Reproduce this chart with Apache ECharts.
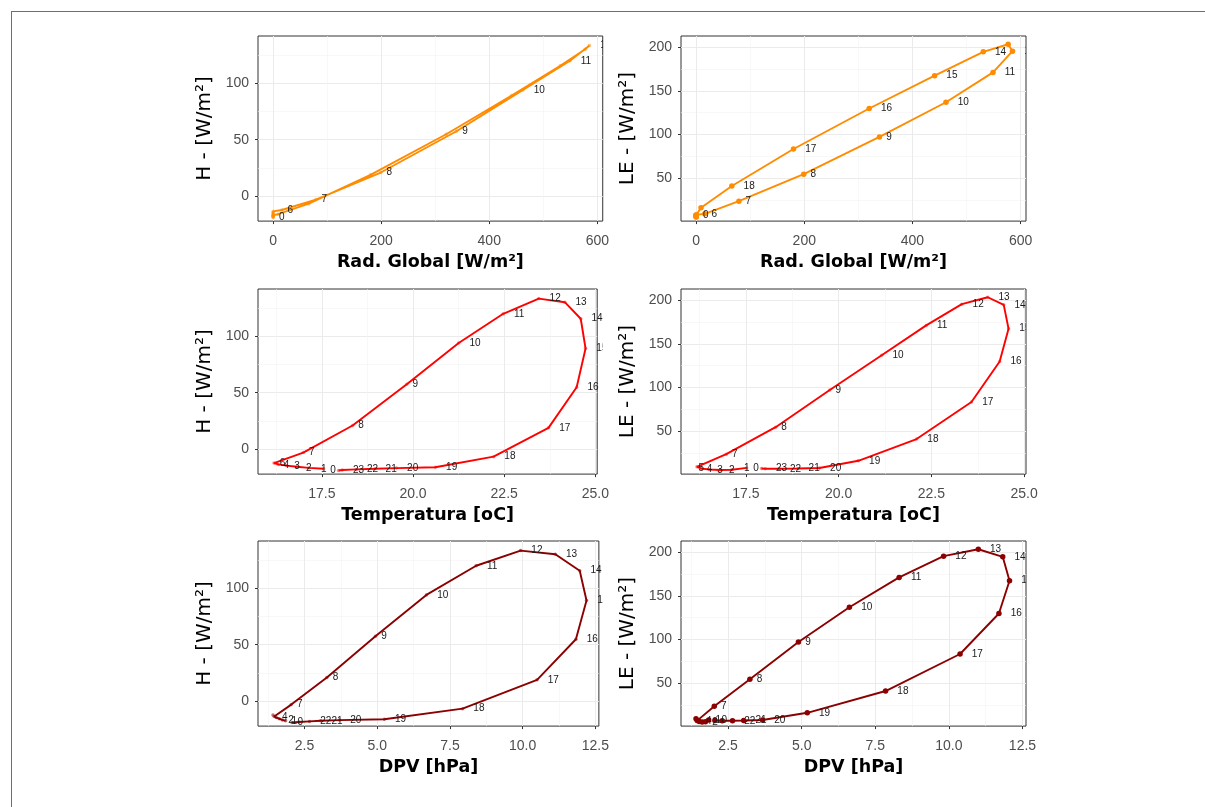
<!DOCTYPE html>
<html>
<head>
<meta charset="utf-8">
<script src="https://cdn.jsdelivr.net/npm/echarts@6/dist/echarts.min.js"></script>
<style>
  html, body { margin: 0; padding: 0; background: #ffffff; width: 1205px; height: 807px; overflow: hidden; }
  #frame { position: absolute; left: 11px; top: 11px; width: 1300px; height: 900px; border: 1px solid #6e6e6e; box-sizing: border-box; }
  .box { position: absolute; }
</style>
</head>
<body>
<div id="frame"></div>
<script>
// Mean daily cycle, one value per hour (0 h .. 23 h)
const hours = [0, 1, 2, 3, 4, 5, 6, 7, 8, 9, 10, 11, 12, 13, 14, 15, 16, 17, 18, 19, 20, 21, 22, 23];
const radGlobal = [0, 0, 0, 0, 0, 0, 16, 79, 199, 339, 462, 549, 585, 577, 531, 441, 320, 180, 66, 9, 0, 0, 0, 0];
const temperatura = [17.92, 17.52, 17.12, 16.80, 16.52, 16.30, 16.18, 16.97, 18.30, 19.76, 21.16, 22.36,
                     23.32, 24.02, 24.45, 24.58, 24.34, 23.58, 22.10, 20.53, 19.48, 18.90, 18.40, 18.02];
const dpv = [2.05, 1.84, 1.73, 1.62, 1.52, 1.45, 1.41, 2.03, 3.24, 4.89, 6.62, 8.31,
             9.82, 11.00, 11.83, 12.06, 11.70, 10.38, 7.85, 5.19, 3.67, 3.03, 2.65, 2.30];
const fluxH = [-14.9, -13.4, -12.6, -11.6, -10.6, -9.6, -8.4, 0.6, 24.0, 59.7, 95.4, 120.6,
               133.7, 130.6, 116.3, 90.6, 57.1, 22.0, -2.9, -12.0, -12.8, -13.4, -13.9, -14.4];
const fluxLE = [12.6, 13.3, 11.2, 11.0, 11.5, 12.5, 14.5, 28.6, 58.7, 100.3, 139.0, 172.3,
                196.0, 203.7, 195.2, 168.6, 132.0, 86.8, 45.5, 21.2, 13.2, 12.6, 12.3, 12.4];

// the path runs from 1 h through 23 h and ends at 0 h
const pathOrder = [1, 2, 3, 4, 5, 6, 7, 8, 9, 10, 11, 12, 13, 14, 15, 16, 17, 18, 19, 20, 21, 22, 23, 0];

// hours whose number is written next to the point, per panel
const labelsRadH  = [0, 6, 7, 8, 9, 10, 11, 12];
const labelsRadLE = [0, 6, 7, 8, 9, 10, 11, 12, 14, 15, 16, 17, 18];
const labelsTH    = [0, 1, 2, 3, 4, 6, 7, 8, 9, 10, 11, 12, 13, 14, 15, 16, 17, 18, 19, 20, 21, 22, 23];
const labelsTLE   = [0, 1, 2, 3, 4, 5, 7, 8, 9, 10, 11, 12, 13, 14, 15, 16, 17, 18, 19, 20, 21, 22, 23];
const labelsDpvH  = [0, 1, 2, 4, 7, 8, 9, 10, 11, 12, 13, 14, 15, 16, 17, 18, 19, 20, 21, 22];
const labelsDpvLE = [0, 1, 2, 4, 7, 8, 9, 10, 11, 12, 13, 14, 15, 16, 17, 18, 19, 20, 21, 22];

// axis extents and tick steps
const radRange = [-28, 610],   radStep = 200;
const hRange   = [-22.2, 142], hStep   = 50;
const leRange  = [0.9, 212.9], leStep  = 50;
const tRange   = [15.75, 25.05], tStep = 2.5;
const dpvRange = [0.9, 12.62], dpvStep = 2.5;

// line colour and the lighter point colour of each variable
const ORANGE = ['#FF8C00', 'rgba(255,140,0,0.55)'];
const RED = ['#FF0000', 'rgba(255,0,0,0.45)'];
const DARKRED = ['#8B0000', 'rgba(139,0,0,0.55)'];

// where the crowded night-time numbers sit in the temperature panels
const nightOnPoint = [1, 2, 3, 4, 5];
const nightToLeft = [0];

const panels = [
  { row: 0, col: 0, xs: radGlobal,   ys: fluxH,  xr: radRange, xt: radStep, yr: hRange,  yt: hStep,  xFmt: 0, xName: 'Rad. Global [W/m²]', yName: 'H - [W/m²]',  color: ORANGE,  big: false, shown: labelsRadH,  onPoint: [], toLeft: [] },
  { row: 0, col: 1, xs: radGlobal,   ys: fluxLE, xr: radRange, xt: radStep, yr: leRange, yt: leStep, xFmt: 0, xName: 'Rad. Global [W/m²]', yName: 'LE - [W/m²]', color: ORANGE,  big: true,  shown: labelsRadLE, onPoint: [], toLeft: [] },
  { row: 1, col: 0, xs: temperatura, ys: fluxH,  xr: tRange,   xt: tStep,   yr: hRange,  yt: hStep,  xFmt: 1, xName: 'Temperatura [oC]',   yName: 'H - [W/m²]',  color: RED,     big: false, shown: labelsTH,    onPoint: nightOnPoint, toLeft: nightToLeft },
  { row: 1, col: 1, xs: temperatura, ys: fluxLE, xr: tRange,   xt: tStep,   yr: leRange, yt: leStep, xFmt: 1, xName: 'Temperatura [oC]',   yName: 'LE - [W/m²]', color: RED,     big: false, shown: labelsTLE,   onPoint: nightOnPoint, toLeft: nightToLeft },
  { row: 2, col: 0, xs: dpv,         ys: fluxH,  xr: dpvRange, xt: dpvStep, yr: hRange,  yt: hStep,  xFmt: 1, xName: 'DPV [hPa]',          yName: 'H - [W/m²]',  color: DARKRED, big: false, shown: labelsDpvH,  onPoint: [], toLeft: [] },
  { row: 2, col: 1, xs: dpv,         ys: fluxLE, xr: dpvRange, xt: dpvStep, yr: leRange, yt: leStep, xFmt: 1, xName: 'DPV [hPa]',          yName: 'LE - [W/m²]', color: DARKRED, big: true,  shown: labelsDpvLE, onPoint: [], toLeft: [] }
];

// page geometry of the plotting areas
const PW = 345, PH = 190;
const plotLeft = [258, 681];
const plotTop = [36, 289, 541];
const boxLeft = [140, 560];
const boxRight = [612, 1120];

function addBox(x, y, w, h) {
  const d = document.createElement('div');
  d.className = 'box';
  d.style.left = x + 'px';
  d.style.top = y + 'px';
  d.style.width = w + 'px';
  d.style.height = h + 'px';
  document.body.appendChild(d);
  return d;
}

function valueAxis(range, step, isX, name, decimals) {
  return {
    type: 'value',
    min: range[0], max: range[1],
    minInterval: step, maxInterval: step, splitNumber: 4,
    name: name, nameLocation: 'middle', nameGap: isX ? 26 : 28,
    nameTextStyle: isX
      ? { fontFamily: 'DejaVu Sans', fontWeight: 'bold', fontSize: 17.5, color: '#000000' }
      : { fontFamily: 'DejaVu Sans', fontSize: 20, color: '#000000' },
    axisLine: { show: false, onZero: false },
    axisTick: { show: true, length: 3, lineStyle: { color: '#333333', width: 1 } },
    axisLabel: {
      show: true, color: '#4D4D4D', fontFamily: 'Liberation Sans', fontSize: 14,
      margin: isX ? 13 : 9, showMinLabel: false, showMaxLabel: false,
      formatter: v => v.toFixed(decimals)
    },
    splitLine: { show: true, showMinLine: false, showMaxLine: false, lineStyle: { color: '#EBEBEB', width: 1 } },
    minorTick: { show: false, splitNumber: 2 },
    minorSplitLine: { show: true, lineStyle: { color: '#F3F3F3', width: 0.6 } }
  };
}

function labelFor(p, h) {
  const lab = { show: p.shown.indexOf(h) >= 0, position: 'right', distance: h < 10 ? 4 : 9 };
  if (p.onPoint.indexOf(h) >= 0) { lab.position = 'inside'; }
  if (p.toLeft.indexOf(h) >= 0) { lab.position = 'left'; lab.distance = 1; }
  return lab;
}

panels.forEach(p => {
  // frame, grid lines, ticks and titles
  const bx = boxLeft[p.col], by = plotTop[p.row] - 20;
  const axesDiv = addBox(bx, by, boxRight[p.col] - bx, PH + 70);
  const axes = echarts.init(axesDiv, null, { renderer: 'canvas' });
  axes.setOption({
    animation: false,
    grid: { left: plotLeft[p.col] - bx, top: 20, width: PW, height: PH, show: true, borderColor: '#333333', borderWidth: 1, backgroundColor: 'transparent' },
    xAxis: valueAxis(p.xr, p.xt, true, p.xName, p.xFmt),
    yAxis: valueAxis(p.yr, p.yt, false, p.yName, 0),
    series: [{ type: 'line', data: [] }]
  });

  // the hourly loop, clipped to the plotting area
  const plotDiv = addBox(plotLeft[p.col], plotTop[p.row], PW, PH);
  const plot = echarts.init(plotDiv, null, { renderer: 'canvas' });
  const data = pathOrder.map(h => ({
    name: String(hours[h]),
    value: [p.xs[h], p.ys[h]],
    label: labelFor(p, h)
  }));
  plot.setOption({
    animation: false,
    grid: { left: 0, right: 0, top: 0, bottom: 0 },
    xAxis: { type: 'value', min: p.xr[0], max: p.xr[1], show: false },
    yAxis: { type: 'value', min: p.yr[0], max: p.yr[1], show: false },
    series: [{
      type: 'line',
      data: data,
      symbol: 'circle',
      symbolSize: p.big ? 5.5 : 3.5,
      showSymbol: true,
      itemStyle: { color: p.big ? p.color[0] : p.color[1] },
      lineStyle: { color: p.color[0], width: 1.9 },
      label: {
        offset: [0, 1],
        fontFamily: 'Liberation Sans', fontSize: 10, color: '#1A1A1A',
        formatter: q => q.name
      },
      labelLayout: { hideOverlap: false },
      emphasis: { disabled: true },
      z: 3
    }]
  });
});
</script>
</body>
</html>
